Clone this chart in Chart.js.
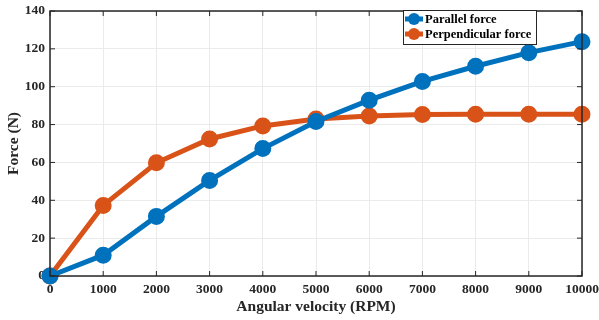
<!DOCTYPE html>
<html>
<head>
<meta charset="utf-8">
<script src="https://cdn.jsdelivr.net/npm/chart.js@4/dist/chart.umd.min.js"></script>
<style>
  html, body { margin: 0; padding: 0; background: #fff; }
  #wrap { width: 599px; height: 320px; }
</style>
</head>
<body>
<div id="wrap"><canvas id="plot" width="599" height="320"></canvas></div>
<script>
const rpm = [0, 1000, 2000, 3000, 4000, 5000, 6000, 7000, 8000, 9000, 10000];
const parallelForce = [0, 11, 31.5, 50.5, 67.3, 81.6, 92.9, 102.8, 110.8, 118, 123.8];
const perpendicularForce = [0, 37.3, 59.8, 72.4, 79.3, 82.9, 84.5, 85.3, 85.5, 85.5, 85.4];

const FONT = "'Liberation Serif', 'Times New Roman', serif";

// MATLAB-like box with inward ticks, plus the legend inside the plot
const boxPlugin = {
  id: "box",
  afterDraw(chart) {
    const { ctx, chartArea: a, scales } = chart;
    ctx.save();
    ctx.strokeStyle = "#262626";
    ctx.lineWidth = 1.5;
    ctx.strokeRect(a.left, a.top, a.right - a.left, a.bottom - a.top);
    ctx.lineWidth = 1;
    const len = 5;
    scales.x.ticks.forEach((t, i) => {
      const x = scales.x.getPixelForTick(i);
      ctx.beginPath();
      ctx.moveTo(x, a.bottom); ctx.lineTo(x, a.bottom - len);
      ctx.moveTo(x, a.top); ctx.lineTo(x, a.top + len);
      ctx.stroke();
    });
    scales.y.ticks.forEach((t, i) => {
      const y = scales.y.getPixelForTick(i);
      ctx.beginPath();
      ctx.moveTo(a.left, y); ctx.lineTo(a.left + len, y);
      ctx.moveTo(a.right, y); ctx.lineTo(a.right - len, y);
      ctx.stroke();
    });

    // legend
    const lx = 403, ly = 10, lw = 133, lh = 34;
    ctx.fillStyle = "#fff";
    ctx.fillRect(lx, ly, lw, lh);
    ctx.strokeStyle = "#262626";
    ctx.lineWidth = 1;
    ctx.strokeRect(lx + 0.5, ly + 0.5, lw, lh);
    chart.data.datasets.forEach((ds, i) => {
      const y = ly + 9 + i * 15;
      ctx.strokeStyle = ds.borderColor;
      ctx.lineWidth = 5;
      ctx.beginPath();
      ctx.moveTo(405, y); ctx.lineTo(423, y);
      ctx.stroke();
      ctx.fillStyle = ds.backgroundColor;
      ctx.beginPath();
      ctx.arc(414, y, 6, 0, Math.PI * 2);
      ctx.fill();
      ctx.fillStyle = "#000";
      ctx.font = "bold 12.5px " + FONT;
      ctx.textBaseline = "middle";
      ctx.fillText(ds.label, 425, y + 0.5);
    });
    ctx.restore();
  }
};

new Chart(document.getElementById("plot"), {
  type: "line",
  data: {
    datasets: [
      {
        label: "Parallel force",
        data: rpm.map((x, i) => ({ x, y: parallelForce[i] })),
        borderColor: "#0072BD",
        backgroundColor: "#0072BD",
        borderWidth: 5,
        pointRadius: 6,
        pointHoverRadius: 6,
        tension: 0
      },
      {
        label: "Perpendicular force",
        data: rpm.map((x, i) => ({ x, y: perpendicularForce[i] })),
        borderColor: "#D95319",
        backgroundColor: "#D95319",
        borderWidth: 5,
        pointRadius: 6,
        pointHoverRadius: 6,
        tension: 0
      }
    ]
  },
  options: {
    responsive: false,
    animation: false,
    events: [],
    clip: false,
    layout: { padding: { top: 9, right: 17, left: 0, bottom: 0 } },
    plugins: { legend: { display: false }, tooltip: { enabled: false } },
    scales: {
      x: {
        type: "linear",
        min: 0,
        max: 10000,
        ticks: {
          stepSize: 1000,
          color: "#262626",
          padding: 5,
          maxRotation: 0,
          callback: v => String(v),
          font: { family: FONT, size: 13.5, weight: "bold" }
        },
        grid: { color: "#ebebeb", drawTicks: false },
        border: { display: false },
        title: {
          display: true,
          text: "Angular velocity (RPM)",
          color: "#262626",
          padding: { top: 1, bottom: 4 },
          font: { family: FONT, size: 15.5, weight: "bold" }
        },
        afterFit(s) { s.height = 44; s.paddingLeft = 0; s.paddingRight = 0; }
      },
      y: {
        min: 0,
        max: 140,
        ticks: {
          stepSize: 20,
          color: "#262626",
          padding: 5,
          font: { family: FONT, size: 13.5, weight: "bold" }
        },
        grid: { color: "#ebebeb", drawTicks: false },
        border: { display: false },
        title: {
          display: true,
          text: "Force (N)",
          color: "#262626",
          padding: { top: 5, bottom: 2 },
          font: { family: FONT, size: 15.5, weight: "bold" }
        },
        afterFit(s) { s.width = 50; s.paddingTop = 0; s.paddingBottom = 0; }
      }
    }
  },
  plugins: [boxPlugin]
});
</script>
</body>
</html>
